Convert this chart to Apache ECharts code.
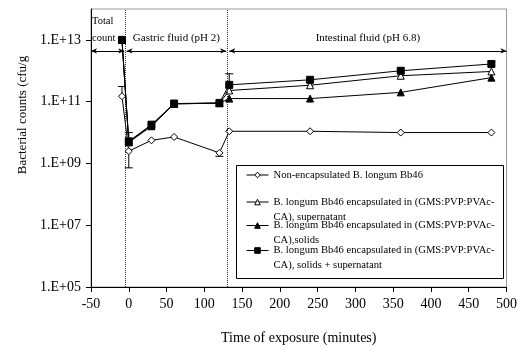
<!DOCTYPE html>
<html><head><meta charset="utf-8">
<script src="https://cdn.jsdelivr.net/npm/echarts@6/dist/echarts.min.js"></script>
<style>html,body{margin:0;background:#fff}#c{width:520px;height:350px}</style>
</head><body><div id="c"></div>
<script>
// ---- data ----
const seriesNames = [
  'Non-encapsulated B. longum Bb46',
  'B. longum Bb46 encapsulated in (GMS:PVP:PVAc-CA), supernatant',
  'B. longum Bb46 encapsulated in (GMS:PVP:PVAc-CA),solids',
  'B. longum Bb46 encapsulated in (GMS:PVP:PVAc-CA), solids + supernatant'
];
const timeNonEnc = [-9, 0, 30, 60, 120, 133, 240, 360, 480];
const countsNonEnc = [1.5e11, 2.5e9, 5.6e9, 7.2e9, 2.2e9, 1.1e10, 1.1e10, 1.0e10, 1.0e10];
const timeEnc = [-9, 0, 30, 60, 120, 133, 240, 360, 480];
const countsSupernatant = [1e13, 5.0e9, 1.7e10, 8.5e10, 9.0e10, 2.3e11, 3.4e11, 6.9e11, 9.5e11];
const countsSolids = [1e13, 4.8e9, 1.6e10, 8.5e10, 8.9e10, 1.26e11, 1.26e11, 2.0e11, 6.0e11];
const countsSolidsSuper = [1e13, 5.2e9, 1.8e10, 8.7e10, 9.1e10, 3.5e11, 5.1e11, 1.0e12, 1.66e12];
// error bars: time, from (mean), to (end with cap)
const errTime = [-9, 0, 120, 0, 133, 480];
const errFrom = [1.5e11, 2.5e9, 2.2e9, 5.2e9, 3.5e11, 1.66e12];
const errTo = [3.1e11, 7.2e8, 1.7e9, 1.0e10, 8.0e11, 2.0e12];
const yTickExps = [5, 7, 9, 11, 13];
const phaseBounds = [-5, 131];
const phaseLabels = ['Total\ncount', 'Gastric fluid (pH 2)', 'Intestinal fluid (pH 6.8)'];
const phaseArrowLevel = 4.4e12;
const phaseSpans = [[-50, -6], [-3, 129], [133, 500]];

// ---- chart ----
const FONT = 'Liberation Serif';
const lg = v => Math.log10(v);
const pairs = (ts, cs) => ts.map((t, i) => [t, lg(cs[i])]);
const chart = echarts.init(document.getElementById('c'), null, {renderer: 'canvas'});

const symbols = ['diamond', 'triangle', 'triangle', 'rect'];
const fills = ['#fff', '#fff', '#000', '#000'];
const sizes = [7, 7, 7, 7];
const dataSets = [
  pairs(timeNonEnc, countsNonEnc),
  pairs(timeEnc, countsSupernatant),
  pairs(timeEnc, countsSolids),
  pairs(timeEnc, countsSolidsSuper)
];

const lineSeries = seriesNames.map((name, i) => ({
  name, type: 'line', data: dataSets[i], symbol: symbols[i], symbolSize: sizes[i],
  showAllSymbol: true, z: 3 + i, animation: false,
  lineStyle: {color: '#000', width: 1},
  itemStyle: {color: fills[i], borderColor: '#000', borderWidth: 1}
}));

lineSeries[0].markLine = {
  silent: true, animation: false, symbol: 'none',
  lineStyle: {color: '#333', type: 'dotted', width: 1},
  label: {show: false},
  data: phaseBounds.map(b => ({xAxis: b}))
};

const arrowSeries = {
  type: 'line', data: [], silent: true, animation: false,
  markLine: {
    silent: true, animation: false, symbol: ['arrow', 'arrow'], symbolSize: [4, 6],
    lineStyle: {color: '#000', type: 'solid', width: 1},
    label: {show: true, position: 'insideMiddleTop', distance: 4, color: '#000',
      fontFamily: FONT, fontSize: 11, lineHeight: 17},
    data: phaseSpans.map((s, i) => [
      {coord: [s[0], lg(phaseArrowLevel)], name: phaseLabels[i],
        label: i === 0 ? {formatter: phaseLabels[i], position: 'insideStartTop', distance: [1, 4], fontSize: 10.5} : {formatter: phaseLabels[i]}},
      {coord: [s[1], lg(phaseArrowLevel)]}
    ])
  }
};

const errSeries = {
  type: 'custom', silent: true, animation: false, z: 2,
  data: errTime.map((t, i) => [t, lg(errFrom[i]), lg(errTo[i])]),
  renderItem: (params, api) => {
    const a = api.coord([api.value(0), api.value(1)]);
    const b = api.coord([api.value(0), api.value(2)]);
    return {type: 'group', children: [
      {type: 'line', shape: {x1: a[0], y1: a[1], x2: b[0], y2: b[1]}, style: {stroke: '#000', lineWidth: 1}},
      {type: 'line', shape: {x1: b[0] - 4, y1: b[1], x2: b[0] + 4, y2: b[1]}, style: {stroke: '#000', lineWidth: 1}}
    ]};
  }
};

const legendTops = [167.5, 179.5, 203, 228];
const legends = seriesNames.map((n, i) => ({
  data: [n], left: 246, top: legendTops[i], orient: 'vertical', padding: 0,
  itemWidth: 22, itemHeight: 7, selectedMode: false,
  itemStyle: {borderWidth: 1},
  lineStyle: {width: 1},
  formatter: name => (i === 0 ? name : '\n' + name.replace('PVAc-', 'PVAc-\n')),
  textStyle: {fontFamily: FONT, fontSize: 10.6, color: '#000', lineHeight: 15}
}));

chart.setOption({
  animation: false,
  backgroundColor: '#fff',
  grid: {left: 91, right: 12, top: 9, bottom: 62, show: true, borderColor: '#999', borderWidth: 1},
  xAxis: {
    type: 'value', min: -50, max: 500, interval: 50,
    name: 'Time of exposure (minutes)', nameLocation: 'middle', nameGap: 44,
    nameTextStyle: {fontFamily: FONT, fontSize: 14, color: '#000'},
    axisLine: {onZero: false, lineStyle: {color: '#000', width: 1}},
    axisTick: {inside: false, length: 5, lineStyle: {color: '#000'}},
    axisLabel: {fontFamily: FONT, fontSize: 14, color: '#000', margin: 10},
    splitLine: {show: false}
  },
  yAxis: {
    type: 'value', min: 5, max: 14, interval: 2,
    name: 'Bacterial counts (cfu/g', nameLocation: 'middle', nameGap: 60,
    nameTextStyle: {fontFamily: FONT, fontSize: 13, color: '#000', padding: [0, 0, 0, 66]},
    axisLine: {show: true, onZero: false, lineStyle: {color: '#000', width: 1}},
    axisTick: {show: true, inside: false, length: 5, lineStyle: {color: '#000'}, customValues: yTickExps},
    axisLabel: {fontFamily: FONT, fontSize: 14, color: '#000', margin: 10, customValues: yTickExps,
      formatter: v => (v % 2 === 1 ? '1.E+' + (v < 10 ? '0' : '') + v : '')},
    splitLine: {show: false}
  },
  graphic: [{
    type: 'rect', left: 236, top: 165, shape: {width: 267, height: 113},
    style: {fill: '#fff', stroke: '#000', lineWidth: 1}, z: 1, silent: true
  }],
  legend: legends,
  series: [errSeries, ...lineSeries, arrowSeries]
});
</script>
</body></html>
